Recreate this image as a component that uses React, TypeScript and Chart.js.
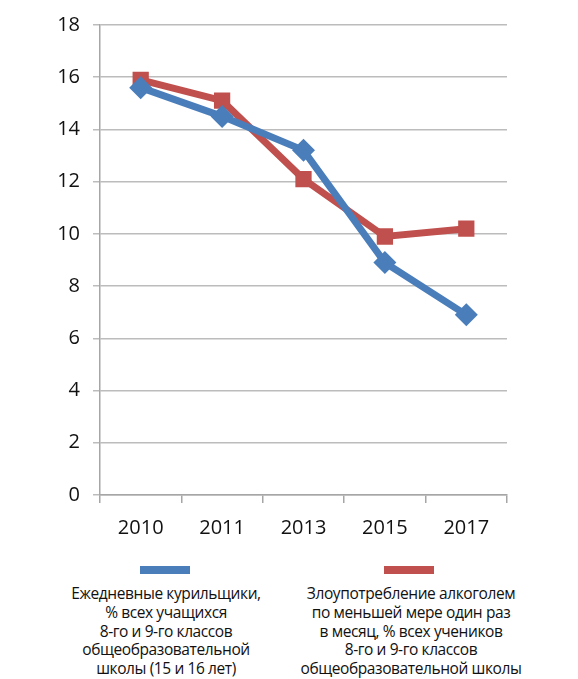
import React, { useEffect, useRef } from "react";
import { Chart, registerables } from "chart.js";

Chart.register(...registerables);

const categories = ["2010", "2011", "2013", "2015", "2017"];
const smokers = [15.6, 14.5, 13.2, 8.9, 6.9];
const alcohol = [15.9, 15.1, 12.1, 9.9, 10.2];
const yTicks = [0, 2, 4, 6, 8, 10, 12, 14, 16, 18];
const legendSmokers = [
  "Ежедневные курильщики,",
  "% всех учащихся",
  "8-го и 9-го классов",
  "общеобразовательной",
  "школы (15 и 16 лет)",
];
const legendAlcohol = [
  "Злоупотребление алкоголем",
  "по меньшей мере один раз",
  "в месяц, % всех учеников",
  "8-го и 9-го классов",
  "общеобразовательной школы",
];

const BLUE = "#4a7ebb";
const RED = "#c0504d";
const FONT = "'Open Sans', 'Noto Sans', sans-serif";

export default function App() {
  const ref = useRef<HTMLCanvasElement>(null);
  useEffect(() => {
    if (!ref.current) return;
    const chart = new Chart(ref.current, {
      type: "line",
      data: {
        labels: categories,
        datasets: [
          {
            label: legendSmokers.join(" "),
            data: smokers,
            borderColor: BLUE,
            backgroundColor: BLUE,
            borderWidth: 7,
            pointStyle: "rectRot",
            pointRadius: 11.5,
            pointBorderWidth: 0,
            tension: 0,
          },
          {
            label: legendAlcohol.join(" "),
            data: alcohol,
            borderColor: RED,
            backgroundColor: RED,
            borderWidth: 7,
            pointStyle: "rect",
            pointRadius: 11.5,
            pointBorderWidth: 0,
            tension: 0,
          },
        ],
      },
      options: {
        animation: false,
        responsive: false,
        layout: { padding: { left: 0, right: 71, top: 24, bottom: 0 } },
        plugins: { legend: { display: false }, tooltip: { enabled: false } },
        scales: {
          x: {
            type: "category",
            offset: true,
            grid: {
              offset: true,
              drawOnChartArea: false,
              drawTicks: true,
              tickLength: 8,
              color: "#a6a6a6",
              lineWidth: 1.5,
            },
            border: { color: "#a6a6a6", width: 1.5 },
            ticks: {
              padding: 13,
              color: "#111",
              font: { family: FONT, size: 20 },
            },
            afterFit: (s: any) => {
              s.height = 50;
            },
          },
          y: {
            min: 0,
            max: 18,
            afterBuildTicks: (s: any) => {
              s.ticks = yTicks.map((v) => ({ value: v }));
            },
            grid: {
              color: "#bcbcbc",
              lineWidth: 1.5,
              tickLength: 7,
            },
            border: { color: "#a6a6a6", width: 1.5 },
            ticks: {
              padding: 13,
              color: "#111",
              font: { family: FONT, size: 20 },
            },
            afterFit: (s: any) => {
              s.width = 100;
            },
          },
        },
      },
    });
    return () => chart.destroy();
  }, []);

  const textStyle: React.CSSProperties = {
    position: "absolute",
    top: 584,
    fontFamily: FONT,
    fontSize: 15.5,
    lineHeight: "18.8px",
    color: "#111",
    textAlign: "center",
    whiteSpace: "nowrap",
    letterSpacing: "-0.4px",
  };

  return (
    <div
      style={{
        position: "fixed",
        left: 0,
        top: 0,
        width: 578,
        height: 679,
        background: "#fff",
        overflow: "hidden",
      }}
    >
      <canvas ref={ref} width={578} height={545} style={{ display: "block" }} />
      <div style={{ position: "absolute", left: 140, top: 566, width: 50, height: 8, background: BLUE }} />
      <div style={{ position: "absolute", left: 384, top: 566, width: 50, height: 8, background: RED }} />
      <div style={{ ...textStyle, left: 166, transform: "translateX(-50%)" }}>
        {legendSmokers.map((l, i) => (
          <div key={i}>{l}</div>
        ))}
      </div>
      <div style={{ ...textStyle, left: 411, transform: "translateX(-50%)" }}>
        {legendAlcohol.map((l, i) => (
          <div key={i}>{l}</div>
        ))}
      </div>
    </div>
  );
}
